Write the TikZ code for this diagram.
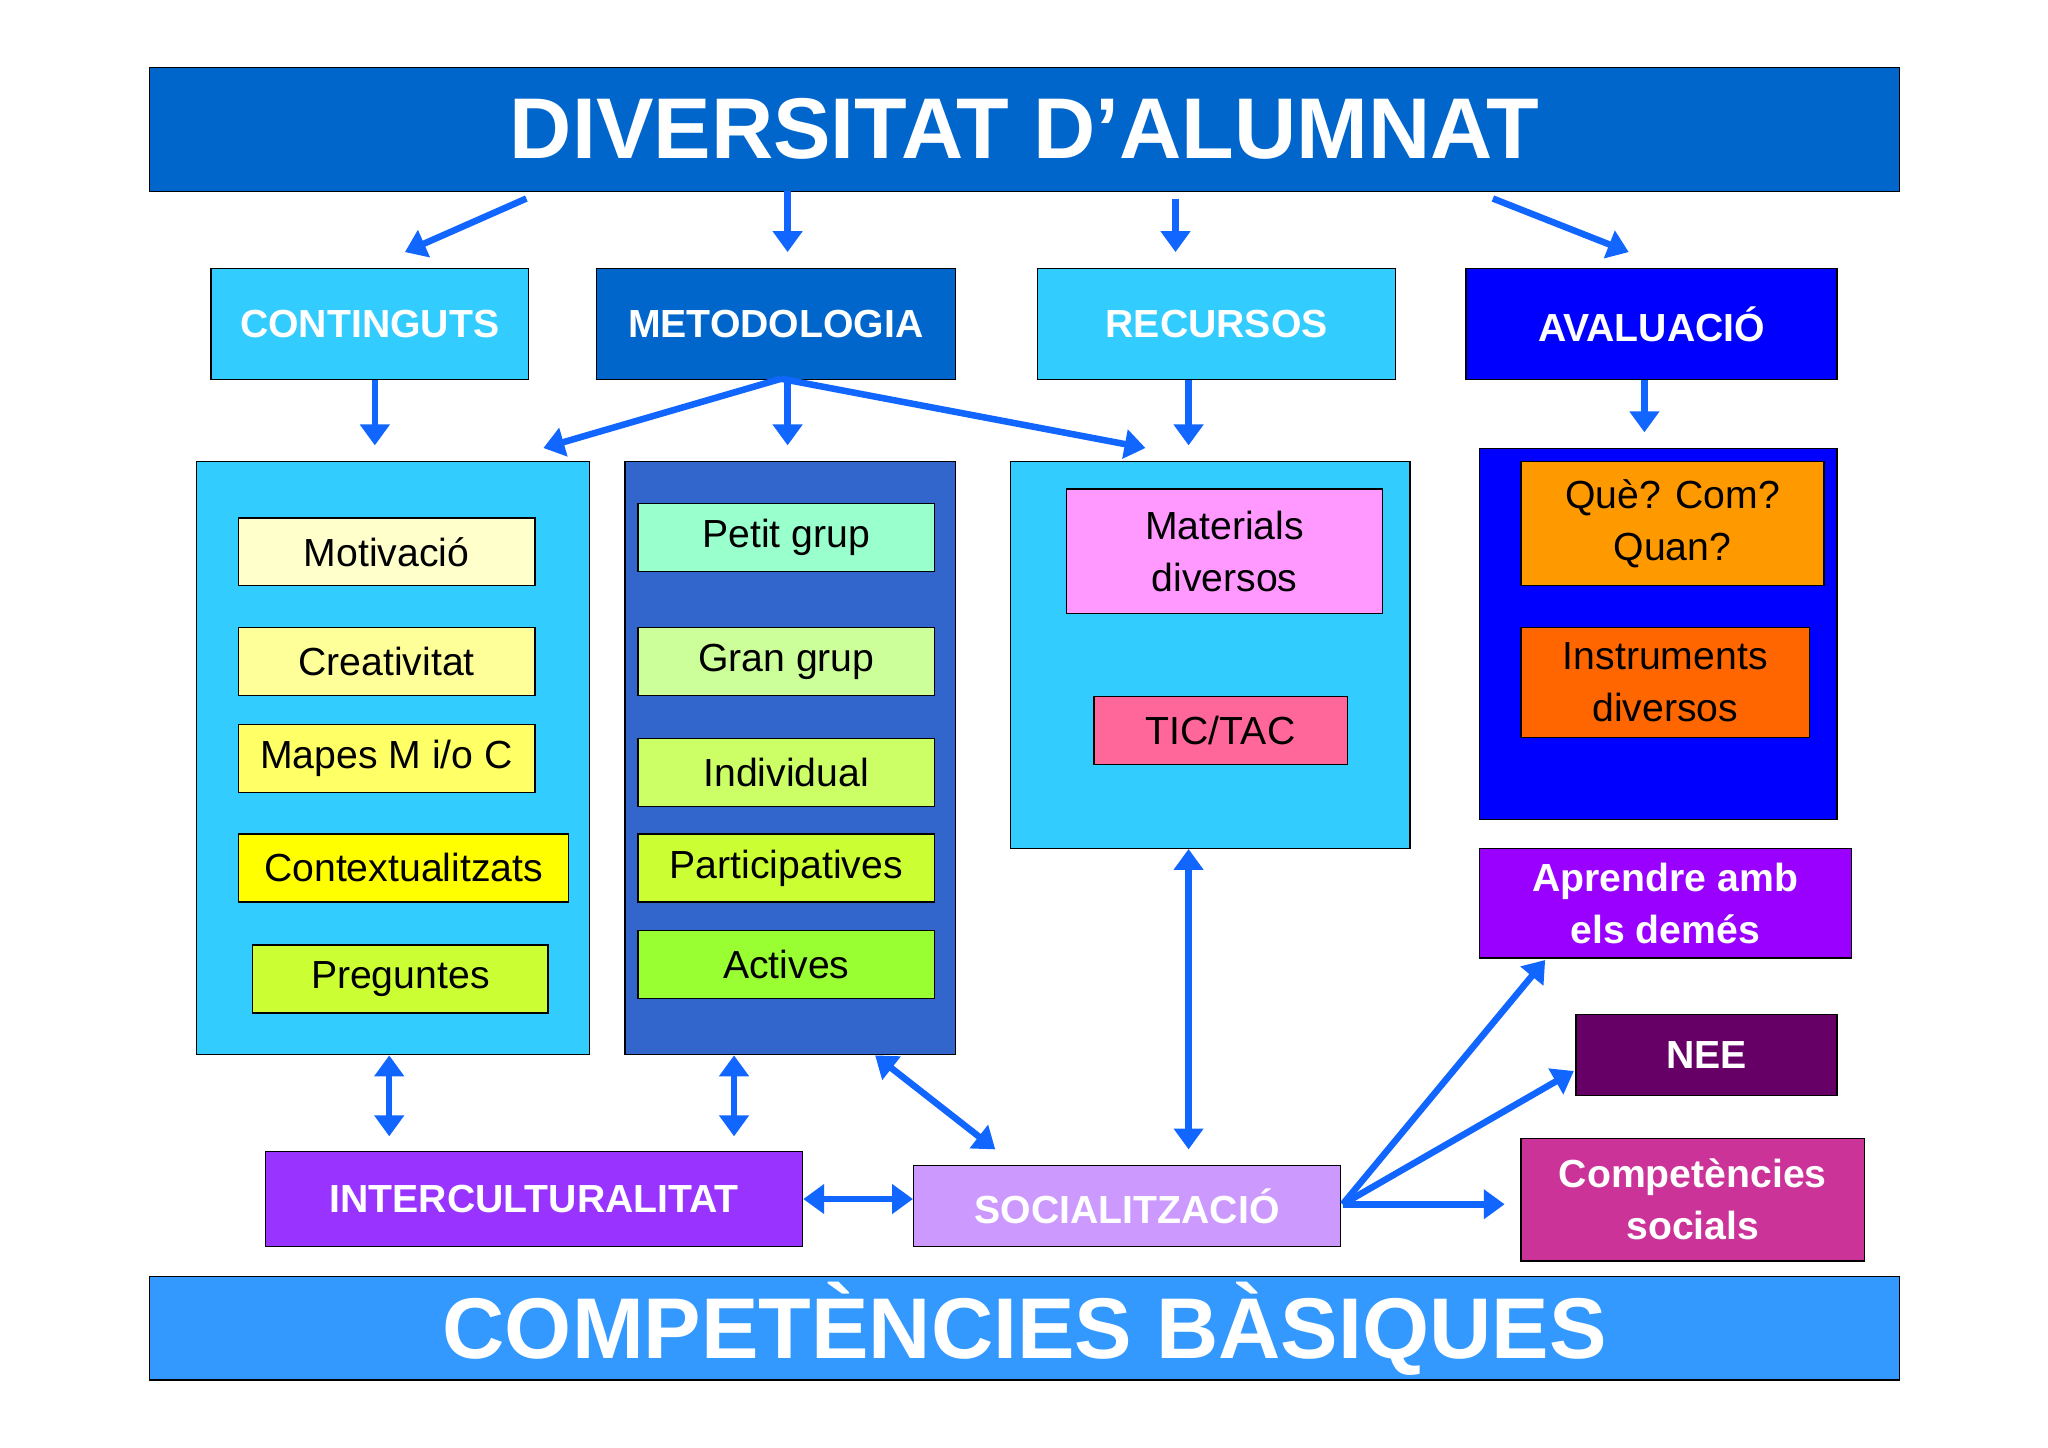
\documentclass[tikz,border=0pt]{standalone}
\usepackage{fontspec}
\setmainfont{Liberation Sans}
\usetikzlibrary{arrows.meta}
\newcommand\bx[7]{%
\pgfmathsetmacro\bw{#4-#2}\pgfmathsetmacro\bh{#5-#3}%
\node[draw=black,line width=1pt,inner sep=0pt,anchor=north west,minimum width=\bw pt,minimum height=\bh pt,align=center,#6] (#1) at (#2,#3) {#7};}
\tikzset{
 lab/.style={font=\fontsize{30}{40}\selectfont,text=black},
 hd/.style={font=\fontsize{30}{40}\selectfont\bfseries,text=white},
 arr/.style={draw={rgb,255:red,17;green,102;blue,255},line width=5pt,-{Triangle[length=16pt,width=22pt]}},
 darr/.style={draw={rgb,255:red,17;green,102;blue,255},line width=5pt,{Triangle[length=16pt,width=22pt]}-{Triangle[length=16pt,width=22pt]}}
}
\begin{document}
\begin{tikzpicture}[x=1pt,y=-1pt]
\useasboundingbox[fill=white] (0,0) rectangle (1568,1108);
\bx{T}{114}{51}{1454}{146}{fill={rgb,255:red,0;green,102;blue,204},font=\fontsize{66}{70}\selectfont\bfseries,text=white}{DIVERSITAT D’ALUMNAT}
\bx{B}{114}{977}{1454}{1056}{fill={rgb,255:red,51;green,153;blue,255},font=\fontsize{66}{70}\selectfont\bfseries,text=white}{COMPETÈNCIES BÀSIQUES}
\bx{C}{161}{205}{404}{290}{hd,fill={rgb,255:red,51;green,204;blue,255}}{CONTINGUTS}
\bx{M}{456}{205}{731}{290}{hd,fill={rgb,255:red,0;green,102;blue,204}}{METODOLOGIA}
\bx{R}{794}{205}{1068}{290}{hd,fill={rgb,255:red,51;green,204;blue,255}}{RECURSOS}
\bx{A}{1122}{205}{1406}{290}{hd,fill={rgb,255:red,0;green,0;blue,255}}{AVALUACIÓ}
\bx{CB}{150}{353}{451}{807}{fill={rgb,255:red,51;green,204;blue,255}}{}
\bx{MB}{478}{353}{731}{807}{fill={rgb,255:red,51;green,102;blue,204}}{}
\bx{RB}{773}{353}{1079}{649}{fill={rgb,255:red,51;green,204;blue,255}}{}
\bx{AB}{1132}{343}{1406}{627}{fill={rgb,255:red,0;green,0;blue,255}}{}
\bx{c1}{182}{396}{409}{448}{lab,fill={rgb,255:red,255;green,255;blue,204}}{Motivació}
\bx{c2}{182}{480}{409}{532}{lab,fill={rgb,255:red,255;green,255;blue,153}}{Creativitat}
\bx{c3}{182}{554}{409}{606}{lab,fill={rgb,255:red,255;green,255;blue,102}}{Mapes M i/o C}
\bx{c4}{182}{638}{435}{690}{lab,fill={rgb,255:red,255;green,255;blue,0}}{Contextualitzats}
\bx{c5}{193}{723}{419}{775}{lab,fill={rgb,255:red,204;green,255;blue,51}}{Preguntes}
\bx{m1}{488}{385}{715}{437}{lab,fill={rgb,255:red,153;green,255;blue,204}}{Petit grup}
\bx{m2}{488}{480}{715}{532}{lab,fill={rgb,255:red,204;green,255;blue,153}}{Gran grup}
\bx{m3}{488}{565}{715}{617}{lab,fill={rgb,255:red,204;green,255;blue,102}}{Individual}
\bx{m4}{488}{638}{715}{690}{lab,fill={rgb,255:red,204;green,255;blue,51}}{Participatives}
\bx{m5}{488}{712}{715}{764}{lab,fill={rgb,255:red,153;green,255;blue,51}}{Actives}
\bx{r1}{816}{374}{1058}{469}{lab,fill={rgb,255:red,255;green,153;blue,255}}{Materials\\diversos}
\bx{r2}{837}{533}{1031}{585}{lab,fill={rgb,255:red,255;green,102;blue,153}}{TIC/TAC}
\bx{a1}{1164}{353}{1396}{448}{lab,fill={rgb,255:red,255;green,153;blue,0}}{Què? Com?\\Quan?}
\bx{a2}{1164}{480}{1385}{564}{lab,fill={rgb,255:red,255;green,102;blue,0}}{Instruments\\diversos}
\bx{AP}{1132}{649}{1417}{733}{hd,fill={rgb,255:red,153;green,0;blue,255}}{Aprendre amb\\els demés}
\bx{N}{1206}{776}{1406}{838}{hd,fill={rgb,255:red,102;green,0;blue,102}}{NEE}
\bx{CS}{1164}{871}{1427}{965}{hd,fill={rgb,255:red,204;green,51;blue,153}}{Competències\\socials}
\bx{I}{203}{881}{614}{954}{hd,fill={rgb,255:red,153;green,51;blue,255}}{INTERCULTURALITAT}
\bx{S}{699}{892}{1026}{954}{hd,fill={rgb,255:red,204;green,153;blue,255}}{SOCIALITZACIÓ}
% top arrows
\coordinate (t1) at (403,152); \coordinate (t1e) at (310,193);
\coordinate (t2) at (603,146); \coordinate (t2e) at (603,193);
\coordinate (t3) at (900,152); \coordinate (t3e) at (900,193);
\coordinate (t4) at (1143,152); \coordinate (t4e) at (1247,193);
\draw[arr] (t1) -- (t1e); \draw[arr] (t2) -- (t2e);
\draw[arr] (t3) -- (t3e); \draw[arr] (t4) -- (t4e);
\coordinate (mo) at (598,290);
\coordinate (ce) at (287,341); \coordinate (me1) at (416,343);
\coordinate (me2) at (603,341); \coordinate (me3) at (877,343);
\coordinate (re) at (910,341); \coordinate (ae) at (1259,331);
\draw[arr] (C.south-|ce) -- (ce);
\draw[arr] (mo) -- (me1);
\draw[arr] (M.south-|me2) -- (me2);
\draw[arr] (mo) -- (me3);
\draw[arr] (R.south-|re) -- (re);
\draw[arr] (A.south-|ae) -- (ae);
% double arrows
\coordinate (d1a) at (298,808); \coordinate (d1b) at (298,870);
\coordinate (d2a) at (562,808); \coordinate (d2b) at (562,870);
\coordinate (d3a) at (670,808); \coordinate (d3b) at (762,880);
\coordinate (d4a) at (910,650); \coordinate (d4b) at (910,880);
\draw[darr] (d1a) -- (d1b);
\draw[darr] (d2a) -- (d2b);
\draw[darr] (d3a) -- (d3b);
\draw[darr] (d4a) -- (d4b);
\draw[darr] (I.east) -- (S.west|-I.east);
\coordinate (so) at (1028,922);
\draw[arr] (so) -- (1183,735);
\draw[arr] (so) -- (1205,820);
\draw[arr] (so) -- (1152,922);
\end{tikzpicture}
\end{document}
